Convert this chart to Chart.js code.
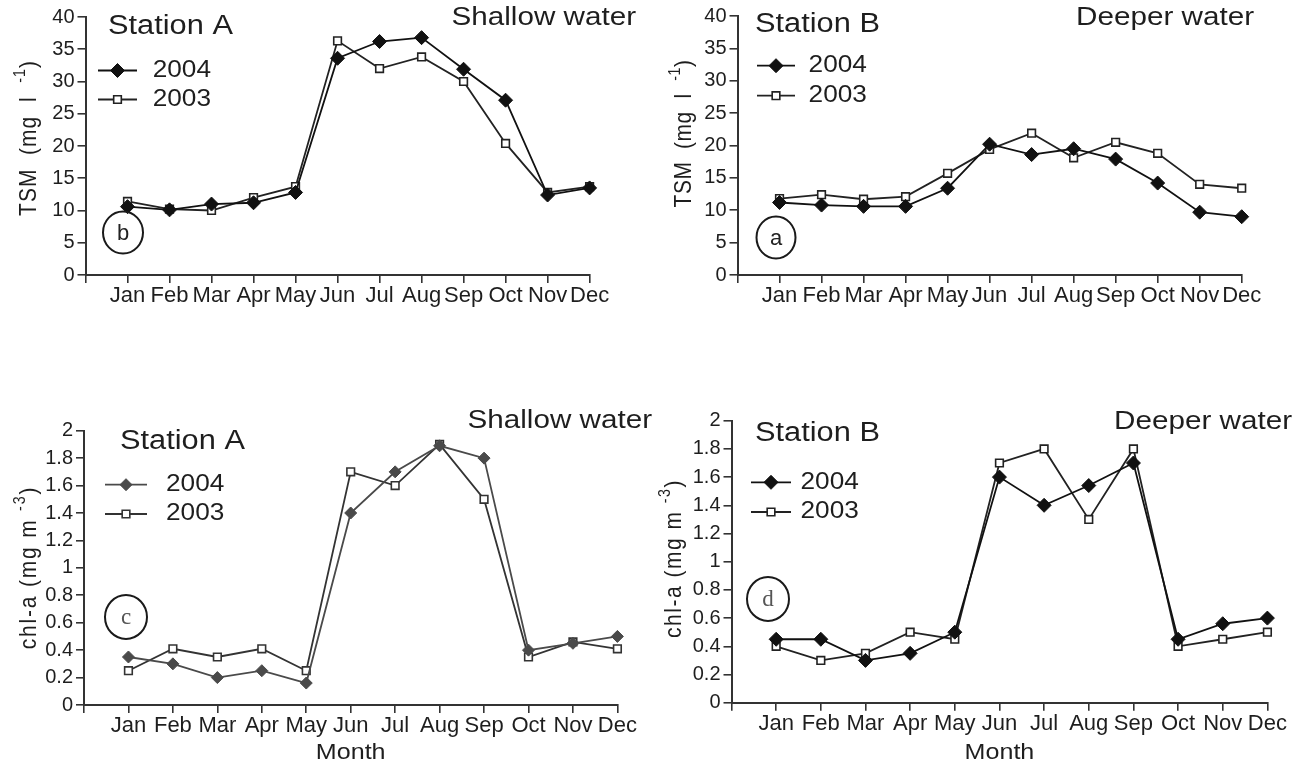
<!DOCTYPE html>
<html><head><meta charset="utf-8">
<script src="https://cdn.jsdelivr.net/npm/chart.js@4.4.1/dist/chart.umd.min.js"></script>
<style>
html,body{margin:0;padding:0;background:#fff;width:1308px;height:769px;overflow:hidden;}
canvas{position:absolute;}
</style></head><body>
<canvas id="cA" width="654" height="345" style="left:0px;top:0px"></canvas>
<canvas id="cB" width="654" height="345" style="left:654px;top:0px"></canvas>
<canvas id="cC" width="654" height="389" style="left:0px;top:380px"></canvas>
<canvas id="cD" width="654" height="389" style="left:654px;top:380px"></canvas>
<script>
// ---------- data ----------
const months = ['Jan','Feb','Mar','Apr','May','Jun','Jul','Aug','Sep','Oct','Nov','Dec'];
const tsmTicks = [0,5,10,15,20,25,30,35,40];
const chlTicks = [0,0.2,0.4,0.6,0.8,1,1.2,1.4,1.6,1.8,2];
const seriesNames = ['2004','2003'];

const tsmA2004 = [10.6,10.1,11.0,11.2,12.8,33.6,36.2,36.8,31.9,27.1,12.4,13.5];
const tsmA2003 = [11.4,10.2,10.0,12.0,13.7,36.3,32.0,33.8,30.0,20.4,12.8,13.7];
const tsmB2004 = [11.2,10.8,10.6,10.6,13.4,20.2,18.6,19.5,17.9,14.2,9.7,9.0];
const tsmB2003 = [11.8,12.4,11.7,12.1,15.7,19.4,21.9,18.1,20.5,18.8,14.0,13.4];
const chlA2004 = [0.35,0.30,0.20,0.25,0.16,1.40,1.70,1.89,1.80,0.40,0.45,0.50];
const chlA2003 = [0.25,0.41,0.35,0.41,0.25,1.70,1.60,1.90,1.50,0.35,0.46,0.41];
const chlB2004 = [0.45,0.45,0.30,0.35,0.50,1.60,1.40,1.54,1.70,0.45,0.56,0.60];
const chlB2003 = [0.40,0.30,0.35,0.50,0.45,1.70,1.80,1.30,1.80,0.40,0.45,0.50];

// ---------- helpers ----------
const FONT = '"Liberation Sans", Arial, Helvetica, sans-serif';
const SERIF = '"Liberation Serif", "Times New Roman", serif';
const SX = 1.14;
const TXT = '#1e1e1e';

function toXY(vals){ return vals.map((v,i)=>({x:i+1, y:v})); }

function txt(ctx, s, x, y, size, align, color, family){
  ctx.save(); ctx.translate(x, y); ctx.scale(SX, 1);
  ctx.font = size + 'px ' + (family || FONT);
  ctx.fillStyle = color || TXT; ctx.textAlign = align; ctx.textBaseline = 'middle';
  ctx.fillText(s, 0, 0); ctx.restore();
}
function yTitle(ctx, parts, cx, cy, size, spacing){
  ctx.save(); ctx.translate(cx, cy); ctx.rotate(-Math.PI/2); ctx.scale(1, SX);
  if ('letterSpacing' in ctx) ctx.letterSpacing = spacing + 'px';
  const sup = size*0.68; let total = 0;
  const ws = parts.map(p=>{ ctx.font=(p.sup?sup:size)+'px '+FONT; const w=ctx.measureText(p.t).width; total+=w; return w; });
  let x = -total/2; const base = size*0.358;
  ctx.fillStyle = TXT; ctx.textAlign='left'; ctx.textBaseline='alphabetic';
  parts.forEach((p,i)=>{ ctx.font=(p.sup?sup:size)+'px '+FONT; ctx.fillText(p.t, x, p.sup ? base - size*0.45 : base); x+=ws[i]; });
  ctx.restore();
}
function marker(ctx, ds, x, y){
  const r = ds.pointRadius;
  ctx.save(); ctx.lineWidth = ds.pointBorderWidth; ctx.strokeStyle = ds.pointBorderColor; ctx.fillStyle = ds.pointBackgroundColor;
  ctx.beginPath();
  if (ds.pointStyle === 'rectRot'){ ctx.moveTo(x-r,y); ctx.lineTo(x,y-r); ctx.lineTo(x+r,y); ctx.lineTo(x,y+r); ctx.closePath(); }
  else { const h = r*Math.SQRT1_2; ctx.rect(x-h,y-h,2*h,2*h); }
  ctx.fill(); ctx.stroke(); ctx.restore();
}

function makePlugin(cfg){
  return { id:'annot', afterDraw(chart){
    const ctx = chart.ctx, ox = cfg.ox, oy = cfg.oy;
    txt(ctx, cfg.station, cfg.stX-ox, cfg.stY-oy, 27, 'left');
    txt(ctx, cfg.water, cfg.wX-ox, cfg.wY-oy, 26, 'right');
    chart.data.datasets.forEach((ds,i)=>{
      const y = cfg.legY[i]-oy;
      ctx.save(); ctx.strokeStyle = ds.borderColor; ctx.lineWidth = 1.8;
      ctx.beginPath(); ctx.moveTo(cfg.legX1-ox, y); ctx.lineTo(cfg.legX2-ox, y); ctx.stroke(); ctx.restore();
      marker(ctx, ds, (cfg.legX1+cfg.legX2)/2-ox, y);
      txt(ctx, ds.label, cfg.legTX-ox, y, 23, 'left');
    });
    // circled letter
    ctx.save(); ctx.strokeStyle='#1a1a1a'; ctx.lineWidth=2; ctx.beginPath();
    ctx.ellipse(cfg.cX-ox, cfg.cY-oy, cfg.cRx, cfg.cRy, 0, 0, Math.PI*2); ctx.stroke(); ctx.restore();
    ctx.save(); ctx.font = cfg.letterFont; ctx.fillStyle = cfg.letterColor; ctx.textAlign='center'; ctx.textBaseline='middle';
    ctx.fillText(cfg.letter, cfg.cX-ox, cfg.cY-oy+1); ctx.restore();
    yTitle(ctx, cfg.yTitle, cfg.ytX-ox, cfg.ytY-oy, 21, cfg.ytSp);
    if (cfg.xTitle){ const a = chart.chartArea; txt(ctx, cfg.xTitle, (a.left+a.right)/2, cfg.xtY-oy, 22, 'center'); }
  }};
}

function makeChart(id, cfg, yTicks, yMax, s2004, s2003, col2004, col2003, r2004){
  const ds = [
    {label:seriesNames[0], data:toXY(s2004), borderColor:col2004, backgroundColor:col2004, borderWidth:1.8,
     pointStyle:'rectRot', pointRadius:r2004, pointBorderWidth:1, pointBackgroundColor:col2004, pointBorderColor:col2004, tension:0, clip:false},
    {label:seriesNames[1], data:toXY(s2003), borderColor:col2003, backgroundColor:'#fff', borderWidth:1.8,
     pointStyle:'rect', pointRadius:5.4, pointBorderWidth:1.6, pointBackgroundColor:'#fff', pointBorderColor:col2003, tension:0, clip:false}
  ];
  const xVals = [0].concat(months.map((m,i)=>i+1));
  new Chart(document.getElementById(id), {
    type:'line',
    data:{datasets:ds},
    options:{
      responsive:false, animation:false, devicePixelRatio:1,
      layout:{padding:{left:0, top:cfg.padTop, right:cfg.padRight, bottom:0}},
      plugins:{legend:{display:false}, tooltip:{enabled:false}},
      scales:{
        x:{type:'linear', min:0, max:12,
           afterFit:s=>{ s.height = cfg.xh; },
           afterBuildTicks:s=>{ s.ticks = xVals.map(v=>({value:v})); },
           ticks:{autoSkip:false, maxRotation:0, minRotation:0, padding:0, color:TXT,
                  font:{family:FONT, size:22}, callback:v=> v===0 ? '' : months[v-1]},
           grid:{display:true, drawOnChartArea:false, drawTicks:true, tickLength:8, color:'#333', lineWidth:1.6},
           border:{display:true, color:'#333', width:2}},
        y:{type:'linear', min:0, max:yMax,
           afterFit:s=>{ s.width = cfg.yw; },
           afterBuildTicks:s=>{ s.ticks = yTicks.map(v=>({value:v})); },
           ticks:{padding:3, color:TXT, font:{family:FONT, size:20}, callback:v=>String(v)},
           grid:{display:true, drawOnChartArea:false, drawTicks:true, tickLength:8, color:'#333', lineWidth:1.6},
           border:{display:true, color:'#333', width:2}}
      }
    },
    plugins:[makePlugin(cfg)]
  });
}

// ---------- layout (page coordinates) ----------
const layA = {ox:0, oy:0, yw:85.5, padTop:17, padRight:64.4, xh:70,
  station:'Station A', stX:108, stY:26.5, water:'Shallow water', wX:636, wY:17.5,
  legX1:98, legX2:137, legY:[70.5,99.5], legTX:152.7,
  cX:123, cY:232.5, cRx:20, cRy:21, letter:'b', letterFont:'22px '+FONT, letterColor:'#222',
  yTitle:[{t:'TSM  (mg  l  '},{t:'-1',sup:true},{t:')'}], ytSp:1, ytX:27.5, ytY:138};
const layB = {ox:654, oy:0, yw:83.5, padTop:16, padRight:66.3, xh:70,
  station:'Station B', stX:755, stY:25, water:'Deeper water', wX:1254, wY:18.3,
  legX1:757, legX2:795, legY:[65.7,95.7], legTX:808.6,
  cX:776, cY:237.5, cRx:19.5, cRy:21, letter:'a', letterFont:'22px '+FONT, letterColor:'#222',
  yTitle:[{t:'TSM  (mg  l  '},{t:'-1',sup:true},{t:')'}], ytSp:0.5, ytX:682.5, ytY:133.5};
const layC = {ox:0, oy:380, yw:84, padTop:50.7, padRight:36.6, xh:64,
  station:'Station A', stX:120, stY:442, water:'Shallow water', wX:652, wY:421,
  legX1:105, legX2:147, legY:[484.7,514], legTX:166,
  cX:126, cY:617, cRx:21, cRy:22, letter:'c', letterFont:'23px '+SERIF, letterColor:'#555',
  yTitle:[{t:'chl-a (mg m '},{t:'-3',sup:true},{t:')'}], ytSp:1.8, ytX:27, ytY:567.5, xTitle:'Month', xtY:753};
const layD = {ox:654, oy:380, yw:77.5, padTop:40.7, padRight:40.6, xh:66.3,
  station:'Station B', stX:755, stY:434, water:'Deeper water', wX:1292, wY:421.5,
  legX1:751, legX2:791, legY:[482.3,512], legTX:800.5,
  cX:768, cY:599, cRx:21, cRy:22, letter:'d', letterFont:'23px '+SERIF, letterColor:'#555',
  yTitle:[{t:'chl-a (mg m '},{t:'-3',sup:true},{t:')'}], ytSp:1.5, ytX:672.5, ytY:558.5, xTitle:'Month', xtY:752.5};

makeChart('cA', layA, tsmTicks, 40, tsmA2004, tsmA2003, '#111', '#222', 7);
makeChart('cB', layB, tsmTicks, 40, tsmB2004, tsmB2003, '#111', '#222', 7);
makeChart('cC', layC, chlTicks, 2, chlA2004, chlA2003, '#4a4a4a', '#333', 6);
makeChart('cD', layD, chlTicks, 2, chlB2004, chlB2003, '#111', '#222', 7);
</script>
</body></html>
